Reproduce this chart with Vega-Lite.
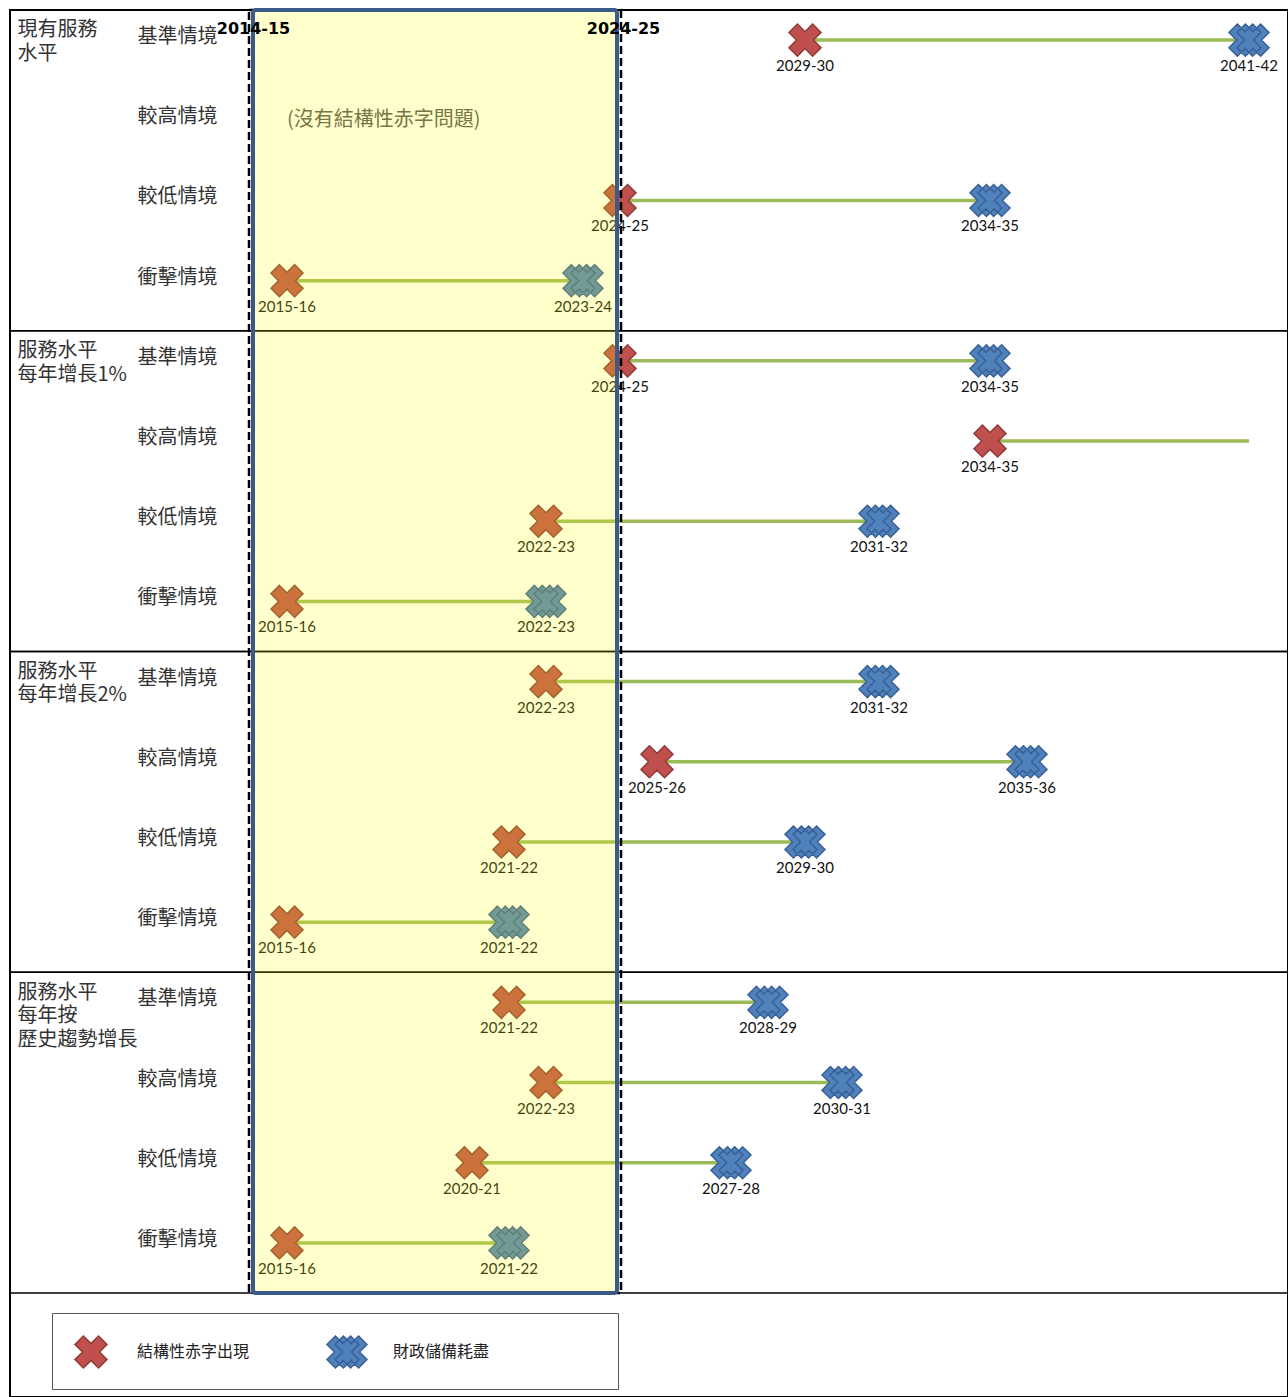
{
  "$schema": "https://vega.github.io/schema/vega-lite/v6.json",
  "width": 1278,
  "height": 1387,
  "autosize": "none",
  "padding": {"left": 10, "top": 10, "right": 0, "bottom": 0},
  "background": "#ffffff",
  "config": {"view": {"stroke": "#000000", "strokeWidth": 2}},
  "datasets": {
    "groups": [
      {"group": "現有服務|水平"},
      {"group": "服務水平|每年增長1%"},
      {"group": "服務水平|每年增長2%"},
      {"group": "服務水平|每年按|歷史趨勢增長"}
    ],
    "spans": [
      {"row": "g1|基準情境", "start": 2029, "end": 2041},
      {"row": "g1|較低情境", "start": 2024, "end": 2034},
      {"row": "g1|衝擊情境", "start": 2015, "end": 2023},
      {"row": "g2|基準情境", "start": 2024, "end": 2034},
      {"row": "g2|較高情境", "start": 2034, "end": 2041},
      {"row": "g2|較低情境", "start": 2022, "end": 2031},
      {"row": "g2|衝擊情境", "start": 2015, "end": 2022},
      {"row": "g3|基準情境", "start": 2022, "end": 2031},
      {"row": "g3|較高情境", "start": 2025, "end": 2035},
      {"row": "g3|較低情境", "start": 2021, "end": 2029},
      {"row": "g3|衝擊情境", "start": 2015, "end": 2021},
      {"row": "g4|基準情境", "start": 2021, "end": 2028},
      {"row": "g4|較高情境", "start": 2022, "end": 2030},
      {"row": "g4|較低情境", "start": 2020, "end": 2027},
      {"row": "g4|衝擊情境", "start": 2015, "end": 2021}
    ],
    "markers": [
      {"row": "g1|基準情境", "type": "結構性赤字出現", "year": 2029, "label": "2029-30"},
      {"row": "g1|基準情境", "type": "財政儲備耗盡", "year": 2041, "label": "2041-42"},
      {"row": "g1|較低情境", "type": "結構性赤字出現", "year": 2024, "label": "2024-25"},
      {"row": "g1|較低情境", "type": "財政儲備耗盡", "year": 2034, "label": "2034-35"},
      {"row": "g1|衝擊情境", "type": "結構性赤字出現", "year": 2015, "label": "2015-16"},
      {"row": "g1|衝擊情境", "type": "財政儲備耗盡", "year": 2023, "label": "2023-24"},
      {"row": "g2|基準情境", "type": "結構性赤字出現", "year": 2024, "label": "2024-25"},
      {"row": "g2|基準情境", "type": "財政儲備耗盡", "year": 2034, "label": "2034-35"},
      {"row": "g2|較高情境", "type": "結構性赤字出現", "year": 2034, "label": "2034-35"},
      {"row": "g2|較低情境", "type": "結構性赤字出現", "year": 2022, "label": "2022-23"},
      {"row": "g2|較低情境", "type": "財政儲備耗盡", "year": 2031, "label": "2031-32"},
      {"row": "g2|衝擊情境", "type": "結構性赤字出現", "year": 2015, "label": "2015-16"},
      {"row": "g2|衝擊情境", "type": "財政儲備耗盡", "year": 2022, "label": "2022-23"},
      {"row": "g3|基準情境", "type": "結構性赤字出現", "year": 2022, "label": "2022-23"},
      {"row": "g3|基準情境", "type": "財政儲備耗盡", "year": 2031, "label": "2031-32"},
      {"row": "g3|較高情境", "type": "結構性赤字出現", "year": 2025, "label": "2025-26"},
      {"row": "g3|較高情境", "type": "財政儲備耗盡", "year": 2035, "label": "2035-36"},
      {"row": "g3|較低情境", "type": "結構性赤字出現", "year": 2021, "label": "2021-22"},
      {"row": "g3|較低情境", "type": "財政儲備耗盡", "year": 2029, "label": "2029-30"},
      {"row": "g3|衝擊情境", "type": "結構性赤字出現", "year": 2015, "label": "2015-16"},
      {"row": "g3|衝擊情境", "type": "財政儲備耗盡", "year": 2021, "label": "2021-22"},
      {"row": "g4|基準情境", "type": "結構性赤字出現", "year": 2021, "label": "2021-22"},
      {"row": "g4|基準情境", "type": "財政儲備耗盡", "year": 2028, "label": "2028-29"},
      {"row": "g4|較高情境", "type": "結構性赤字出現", "year": 2022, "label": "2022-23"},
      {"row": "g4|較高情境", "type": "財政儲備耗盡", "year": 2030, "label": "2030-31"},
      {"row": "g4|較低情境", "type": "結構性赤字出現", "year": 2020, "label": "2020-21"},
      {"row": "g4|較低情境", "type": "財政儲備耗盡", "year": 2027, "label": "2027-28"},
      {"row": "g4|衝擊情境", "type": "結構性赤字出現", "year": 2015, "label": "2015-16"},
      {"row": "g4|衝擊情境", "type": "財政儲備耗盡", "year": 2021, "label": "2021-22"}
    ],
    "notes": [
      {"row": "g1|較高情境", "note": "(沒有結構性赤字問題)"}
    ],
    "box": [
      {"box": "2014-15至2024-25", "from": 2014, "to": 2024}
    ]
  },
  "layer": [
    {
      "data": {"name": "groups"},
      "layer": [
        {
          "mark": {"type": "rule", "color": "#000000", "strokeWidth": 1.6},
          "encoding": {
            "y": {
              "field": "group", "type": "nominal", "bandPosition": 0, "title": null,
              "scale": {"domain": ["現有服務|水平", "服務水平|每年增長1%", "服務水平|每年增長2%", "服務水平|每年按|歷史趨勢增長"], "range": [0, 1283], "paddingInner": 0, "paddingOuter": 0},
              "axis": {"orient": "right", "domain": false, "ticks": false, "tickSize": 0, "grid": false, "labelPadding": -1271, "labelAlign": "left", "labelBaseline": "top", "labelOffset": -150, "labelExpr": "split(datum.value, '|')", "labelLineHeight": 23.5, "labelFont": "Noto Sans CJK TC", "labelFontSize": 20, "labelColor": "#333333", "labelLimit": 300, "zindex": 1}
            }
          }
        },
        {
          "mark": {"type": "rule", "color": "#000000", "strokeWidth": 1.6},
          "encoding": {
            "y": {
              "field": "group", "type": "nominal", "bandPosition": 1, "title": null,
              "scale": {"domain": ["現有服務|水平", "服務水平|每年增長1%", "服務水平|每年增長2%", "服務水平|每年按|歷史趨勢增長"], "range": [0, 1283], "paddingInner": 0, "paddingOuter": 0},
              "axis": {"orient": "right", "domain": false, "ticks": false, "tickSize": 0, "grid": false, "labelPadding": -1271, "labelAlign": "left", "labelBaseline": "top", "labelOffset": -150, "labelExpr": "split(datum.value, '|')", "labelLineHeight": 23.5, "labelFont": "Noto Sans CJK TC", "labelFontSize": 20, "labelColor": "#333333", "labelLimit": 300, "zindex": 1}
            }
          }
        }
      ]
    },
    {
      "layer": [
        {
          "data": {"name": "spans"},
          "mark": {"type": "rule", "color": "#9BBB59", "strokeWidth": 3.5},
          "encoding": {
            "x": {
              "field": "start", "type": "quantitative", "title": null,
              "scale": {"domain": [2007.5135, 2042.054], "nice": false, "zero": false},
              "axis": {"orient": "top", "values": [2014, 2024], "labelExpr": "format(datum.value, 'd') + '-' + slice(format(datum.value + 1, 'd'), 2)", "domain": false, "ticks": false, "tickSize": 0, "grid": false, "labelPadding": -26, "labelFont": "DejaVu Sans", "labelFontWeight": "bold", "labelFontSize": 16, "labelColor": "#000000", "labelFlush": false, "labelOverlap": false, "labelOffset": 3, "zindex": 1}
            },
            "x2": {"field": "end"},
            "y": {
              "field": "row", "type": "nominal", "title": null,
              "scale": {"domain": ["g1|基準情境", "g1|較高情境", "g1|較低情境", "g1|衝擊情境", "g2|基準情境", "g2|較高情境", "g2|較低情境", "g2|衝擊情境", "g3|基準情境", "g3|較高情境", "g3|較低情境", "g3|衝擊情境", "g4|基準情境", "g4|較高情境", "g4|較低情境", "g4|衝擊情境"], "range": [-10, 1273], "paddingInner": 0, "paddingOuter": 0},
              "axis": {"orient": "left", "domain": false, "ticks": false, "tickSize": 0, "grid": false, "labelPadding": -127, "labelAlign": "left", "labelBaseline": "middle", "labelOffset": -3, "labelExpr": "split(datum.value, '|')[1]", "labelFont": "Noto Sans CJK TC", "labelFontSize": 20, "labelColor": "#333333", "labelLimit": 300, "zindex": 1}
            }
          }
        },
        {
          "data": {"name": "markers"},
          "mark": {"type": "point", "filled": true, "opacity": 1, "size": 1600, "strokeWidth": 1.5},
          "encoding": {
            "x": {"field": "year", "type": "quantitative", "title": null, "scale": {"domain": [2007.5135, 2042.054], "nice": false, "zero": false}},
            "y": {
              "field": "row", "type": "nominal", "title": null,
              "scale": {"domain": ["g1|基準情境", "g1|較高情境", "g1|較低情境", "g1|衝擊情境", "g2|基準情境", "g2|較高情境", "g2|較低情境", "g2|衝擊情境", "g3|基準情境", "g3|較高情境", "g3|較低情境", "g3|衝擊情境", "g4|基準情境", "g4|較高情境", "g4|較低情境", "g4|衝擊情境"], "range": [-10, 1273], "paddingInner": 0, "paddingOuter": 0}
            },
            "color": {
              "field": "type", "type": "nominal",
              "scale": {"domain": ["結構性赤字出現", "財政儲備耗盡"], "range": ["#C0504D", "#4F81BD"]},
              "legend": {"orient": "none", "legendX": 42, "legendY": 1303, "direction": "horizontal", "title": " ", "titleOrient": "right", "titlePadding": 111, "padding": 18, "strokeColor": "#555555", "fillColor": "#ffffff", "symbolSize": 1600, "symbolStrokeWidth": 1.5, "symbolOpacity": 1, "labelFont": "Noto Sans CJK TC", "labelFontSize": 16, "labelColor": "#222222", "labelOffset": 25, "columnPadding": 74, "labelLimit": 300}
            },
            "shape": {
              "field": "type", "type": "nominal",
              "scale": {"domain": ["結構性赤字出現", "財政儲備耗盡"], "range": ["M-0.38,-0.8L0,-0.42L0.38,-0.8L0.8,-0.38L0.42,0L0.8,0.38L0.38,0.8L0,0.42L-0.38,0.8L-0.8,0.38L-0.42,0L-0.8,-0.38Z", "M-0.58,-0.8L-0.2,-0.42L0.18,-0.8L0.6,-0.38L0.22,0L0.6,0.38L0.18,0.8L-0.2,0.42L-0.58,0.8L-1,0.38L-0.62,0L-1,-0.38Z M-0.18,-0.8L0.2,-0.42L0.58,-0.8L1,-0.38L0.62,0L1,0.38L0.58,0.8L0.2,0.42L-0.18,0.8L-0.6,0.38L-0.22,0L-0.6,-0.38Z"]}
            },
            "stroke": {
              "field": "type", "type": "nominal",
              "scale": {"domain": ["結構性赤字出現", "財政儲備耗盡"], "range": ["#8E3B39", "#3A6196"]}
            }
          }
        },
        {
          "data": {"name": "markers"},
          "mark": {"type": "text", "dy": 26, "fontSize": 15, "font": "Lato", "color": "#111111", "baseline": "middle"},
          "encoding": {
            "x": {"field": "year", "type": "quantitative", "title": null, "scale": {"domain": [2007.5135, 2042.054], "nice": false, "zero": false}},
            "y": {
              "field": "row", "type": "nominal", "title": null,
              "scale": {"domain": ["g1|基準情境", "g1|較高情境", "g1|較低情境", "g1|衝擊情境", "g2|基準情境", "g2|較高情境", "g2|較低情境", "g2|衝擊情境", "g3|基準情境", "g3|較高情境", "g3|較低情境", "g3|衝擊情境", "g4|基準情境", "g4|較高情境", "g4|較低情境", "g4|衝擊情境"], "range": [-10, 1273], "paddingInner": 0, "paddingOuter": 0}
            },
            "text": {"field": "label"}
          }
        },
        {
          "data": {"name": "notes"},
          "mark": {"type": "text", "align": "left", "baseline": "middle", "fontSize": 20, "font": "Noto Sans CJK TC", "color": "#555555"},
          "encoding": {
            "x": {"datum": 2015, "type": "quantitative", "title": null, "scale": {"domain": [2007.5135, 2042.054], "nice": false, "zero": false}},
            "y": {
              "field": "row", "type": "nominal", "title": null,
              "scale": {"domain": ["g1|基準情境", "g1|較高情境", "g1|較低情境", "g1|衝擊情境", "g2|基準情境", "g2|較高情境", "g2|較低情境", "g2|衝擊情境", "g3|基準情境", "g3|較高情境", "g3|較低情境", "g3|衝擊情境", "g4|基準情境", "g4|較高情境", "g4|較低情境", "g4|衝擊情境"], "range": [-10, 1273], "paddingInner": 0, "paddingOuter": 0}
            },
            "text": {"field": "note"}
          }
        }
      ]
    },
    {
      "data": {"name": "box"},
      "layer": [
        {
          "mark": {"type": "rect", "filled": false, "stroke": "#000000", "strokeWidth": 2.5, "strokeDash": [8, 4], "xOffset": -1, "x2Offset": 1},
          "encoding": {
            "x": {"field": "from", "type": "quantitative", "title": null, "scale": {"domain": [2007.5135, 2042.054], "nice": false, "zero": false}},
            "x2": {"field": "to"},
            "y": {"field": "box", "type": "nominal", "title": null, "axis": null, "scale": {"domain": ["2014-15至2024-25"], "range": [0, 1283], "paddingInner": 0, "paddingOuter": 0}}
          }
        },
        {
          "mark": {"type": "rect", "fill": "#FFFF00", "fillOpacity": 0.2, "stroke": "#3A5A8A", "strokeWidth": 4, "cornerRadius": 3, "xOffset": 3, "x2Offset": -3},
          "encoding": {
            "x": {"field": "from", "type": "quantitative", "title": null, "scale": {"domain": [2007.5135, 2042.054], "nice": false, "zero": false}},
            "x2": {"field": "to"},
            "y": {"field": "box", "type": "nominal", "title": null, "axis": null, "scale": {"domain": ["2014-15至2024-25"], "range": [0, 1283], "paddingInner": 0, "paddingOuter": 0}}
          }
        }
      ]
    }
  ],
  "resolve": {"scale": {"y": "independent"}, "axis": {"y": "independent"}}
}
